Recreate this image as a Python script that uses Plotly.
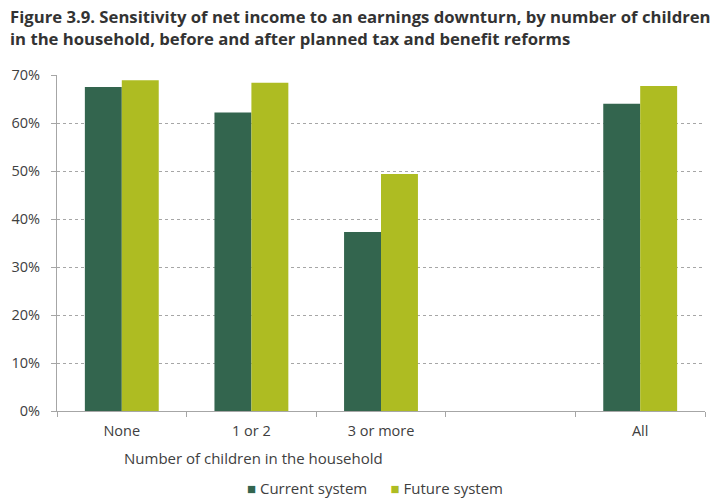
import plotly.graph_objects as go

categories = ["None", "1 or 2", "3 or more", " ", "All"]
current_system = [67.5, 62.2, 37.3, None, 64.0]
future_system = [68.9, 68.4, 49.4, None, 67.7]
y_ticks = [0, 10, 20, 30, 40, 50, 60, 70]
y_tick_labels = [f"{v}%" for v in y_ticks]
series_names = ["Current system", "Future system"]
series_colors = ["#33654e", "#aebc22"]

FONT = "Open Sans"
TXT = "#404040"
fig = go.Figure()
for name, vals, col in zip(series_names, [current_system, future_system], series_colors):
    fig.add_trace(go.Bar(x=categories, y=vals, name=name,
                         marker=dict(color=col, line=dict(width=0))))

title_text = ("<b>Figure 3.9. Sensitivity of net income to an earnings downturn, by number of children"
              "<br>in the household, before and after planned tax and benefit reforms</b>")

legend_text = "&nbsp;&nbsp;&nbsp;&nbsp;&nbsp;&nbsp;".join(
    f"<span style='color:{c}'>■</span>&nbsp;{n}" for n, c in zip(series_names, series_colors))

fig.update_layout(
    width=728, height=504,
    margin=dict(l=55, r=23, t=75, b=93),
    paper_bgcolor="white", plot_bgcolor="white",
    barmode="group", bargap=0.43, bargroupgap=0,
    font=dict(family=FONT, size=14.5, color=TXT),
    showlegend=False,
    xaxis=dict(
        type="category", showline=True, linecolor="#a6a6a6", linewidth=1,
        ticks="outside", tickson="boundaries", ticklen=5, tickcolor="#a6a6a6",
        showgrid=False, tickfont=dict(size=14.5, color=TXT), ticklabelstandoff=7,
    ),
    yaxis=dict(
        range=[0, 70], tickvals=y_ticks, ticktext=y_tick_labels,
        showline=True, linecolor="#a6a6a6", linewidth=1,
        ticks="outside", ticklen=5, tickcolor="#a6a6a6",
        showgrid=True, gridcolor="#a6a6a6", griddash="dot", gridwidth=1,
        zeroline=False, tickfont=dict(size=14.5, color=TXT), ticklabelstandoff=8,
    ),
    annotations=[
        dict(text=title_text, xref="paper", yref="paper",
             x=-0.0753, xanchor="left", y=1.213, yanchor="top", showarrow=False,
             align="left", font=dict(family=FONT, size=16.7, color="#333333")),
        dict(text="Number of children in the household", xref="paper", yref="paper",
             x=0.100, xanchor="left", y=-0.103, yanchor="top", showarrow=False,
             font=dict(size=15, color=TXT)),
        dict(text=legend_text, xref="paper", yref="paper",
             x=0.29, xanchor="left", y=-0.193, yanchor="top", showarrow=False,
             font=dict(size=15, color=TXT)),
    ],
)

fig.write_html("out.html", config={"displayModeBar": False},
               post_script="document.body.style.margin='0';document.body.style.overflow='hidden';")
